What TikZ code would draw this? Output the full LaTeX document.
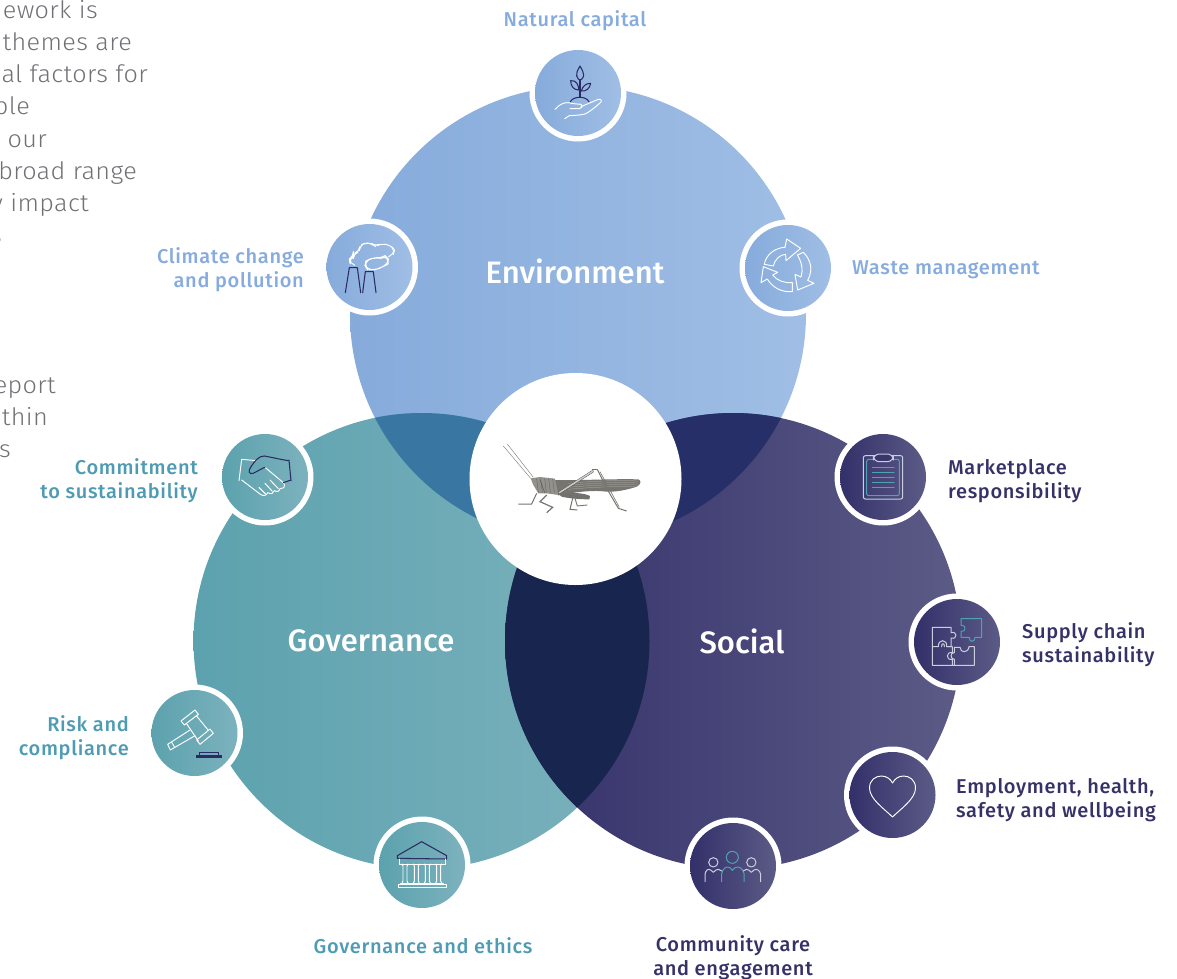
\documentclass[tikz,border=0pt]{standalone}
\usepackage{fontspec}
\setmainfont{Fira Sans}
\newfontfamily\lblfont[LetterSpace=3.3]{Fira Sans Medium}
\newfontfamily\headfont{Fira Sans Medium}
\newfontfamily\bodyfont[FakeStretch=1.05,LetterSpace=1.5]{Fira Sans Light}
\definecolor{envtxt}{HTML}{86ABDE}
\definecolor{govtxt}{HTML}{4E9BB3}
\definecolor{soctxt}{HTML}{363268}
\definecolor{bodytxt}{HTML}{6F7175}
\definecolor{navy}{HTML}{2B2A63}
\definecolor{tealline}{HTML}{4FA3AE}
\definecolor{pale}{HTML}{CBCEDD}
\definecolor{envL}{HTML}{86ABDB}\definecolor{envR}{HTML}{A0BEE5}
\definecolor{govL}{HTML}{5CA2AE}\definecolor{govR}{HTML}{7CB2BD}
\definecolor{socL}{HTML}{33306A}\definecolor{socR}{HTML}{5C5B86}
\definecolor{hop}{HTML}{77756F}
\definecolor{hopdark}{HTML}{4F4E4A}
\definecolor{hoplight}{HTML}{B5B4AE}
\tikzset{
  bigdisc/.style={circle,inner sep=0pt,minimum size=456pt,draw=none},
  ring/.style={circle,inner sep=0pt,minimum size=97pt,fill=white,draw=none},
  icondisc/.style={circle,inner sep=0pt,minimum size=86pt,draw=none},
  lbl/.style={inner sep=0pt,font=\lblfont\fontsize{20}{24}\selectfont},
  head/.style={inner sep=0pt,text=white,font=\headfont\fontsize{31}{36}\selectfont},
  bodyline/.style={inner sep=0pt,anchor=base east,text=bodytxt,font=\bodyfont\fontsize{24}{32}\selectfont},
  wl/.style={draw=white,line width=0.95pt,line join=round,line cap=round},
  nl/.style={draw=navy,line width=1.05pt,line join=round,line cap=round},
  tl/.style={draw=tealline,line width=1pt,line join=round,line cap=round},
  pl/.style={draw=pale,line width=1pt,line join=round,line cap=round},
  envS/.style={left color=envL,right color=envR},
  govS/.style={left color=govL,right color=govR},
  socS/.style={left color=socL,right color=socR},
}
\newcommand{\icondot}[4]{% name, x, y, shade
  \node[ring] at (#2,#3) {};
  \node[icondisc,#4] (#1) at (#2,#3) {};
}
\begin{document}
\begin{tikzpicture}[x=1pt,y=-1pt]
\useasboundingbox (0,0) rectangle (1177,979);
% big circles
\node[bigdisc,envS] (env) at (578,314) {};
\node[bigdisc,govS] (gov) at (421.5,641) {};
\node[bigdisc,socS] (soc) at (733,641) {};
% overlaps
\begin{scope}
  \clip (578,314) circle (228pt);
  \fill[color={rgb,255:red,57;green,119;blue,162}] (421.5,641) circle (228pt);
\end{scope}
\begin{scope}
  \clip (578,314) circle (228pt);
  \fill[color={rgb,255:red,38;green,47;blue,104}] (733,641) circle (228pt);
\end{scope}
\begin{scope}
  \clip (421.5,641) circle (228pt);
  \fill[color={rgb,255:red,23;green,37;blue,79}] (733,641) circle (228pt);
\end{scope}
\node[circle,inner sep=0pt,minimum size=212pt,fill=white] (hub) at (575.5,479) {};
% headings
\node[head] (henv) at (575,271) {Environment};
\node[head] (hgov) at (371,641) {Governance};
\node[head] (hsoc) at (742,641) {Social};
% icon discs
\icondot{natural}{578}{93}{envS}
\icondot{climate}{369.5}{267}{envS}
\icondot{waste}{788}{268}{envS}
\icondot{commit}{265}{477}{govS}
\icondot{risk}{194.5}{733}{govS}
\icondot{ethics}{422}{865}{govS}
\icondot{market}{883}{477}{socS}
\icondot{supply}{957}{642}{socS}
\icondot{employ}{892.5}{795}{socS}
\icondot{commun}{733}{866}{socS}
% natural capital icon
\begin{scope}[shift={(520,40)},scale=1/3]
  \draw[nl] (180,78) .. controls (172,92) and (168,100) .. (170,108) .. controls (172,116) and (178,120) .. (180,120) .. controls (182,120) and (190,116) .. (191,106) .. controls (192,98) and (186,90) .. (180,78) -- cycle;
  \draw[nl] (180,120) -- (180,170);
  \draw[nl] (152,122) .. controls (170,120) and (175,135) .. (177,150) .. controls (162,150) and (152,140) .. (152,122) -- cycle;
  \draw[nl] (212,130) .. controls (198,130) and (188,138) .. (184,153) .. controls (198,155) and (210,145) .. (212,130) -- cycle;
  \draw[nl] (151,185) .. controls (158,170) and (195,165) .. (207,185);
  \draw[wl] (105,208) .. controls (118,195) and (128,187) .. (145,188) .. controls (160,192) and (175,192) .. (183,193) .. controls (190,198) and (185,206) .. (178,206) -- (150,206);
  \draw[wl] (183,200) -- (235,178) .. controls (245,176) and (247,184) .. (240,189) .. controls (225,202) and (210,215) .. (195,222) .. controls (180,226) and (160,226) .. (148,227) -- (134,236);
\end{scope}
% climate icon
\begin{scope}[shift={(320,215)},scale=1/3]
  \draw[nl] (76,233) -- (88,158) -- (112,158) -- (122,233);
  \draw[nl] (128,233) -- (136,170) -- (160,170) -- (168,233);
  \draw[wl,rounded corners=5pt] (102,150) -- (90,146) -- (88,132) -- (100,124) -- (100,116) -- (118,110) -- (120,92) -- (136,83) -- (155,86) -- (166,94) -- (185,86) -- (210,90) -- (224,104) -- (220,118) -- (206,125);
  \draw[wl,rounded corners=5pt] (142,163) -- (135,152) -- (138,138) -- (150,132) -- (168,128) -- (182,130) -- (195,122) -- (205,132) -- (204,148) -- (190,154) -- (178,160) -- (162,165) -- cycle;
\end{scope}
% waste icon
\begin{scope}[shift={(735,215)},scale=1/3]
  \draw[wl] (88,148) .. controls (92,120) and (120,98) .. (150,97) -- (155,72) -- (197,100) -- (153,137) -- (152,118) .. controls (135,118) and (118,135) .. (115,153) -- cycle;
  \draw[wl] (187,120) -- (205,112) .. controls (228,135) and (235,165) .. (218,196) -- (237,205) -- (188,225) -- (180,178) -- (198,186) .. controls (205,165) and (200,140) .. (187,120) -- cycle;
  \draw[wl] (128,172) -- (113,180) .. controls (125,197) and (150,205) .. (172,203) -- (172,230) .. controls (145,232) and (115,222) .. (97,192) -- (78,203) -- (85,155) -- cycle;
\end{scope}
% handshake icon
\begin{scope}[shift={(215,430)},scale=1/3]
  \draw[wl] (72,152) -- (80,88) -- (125,92);
  \draw[wl] (80,150) -- (135,192) .. controls (145,200) and (155,197) .. (158,188) .. controls (168,194) and (176,190) .. (178,182) .. controls (188,188) and (196,182) .. (196,175) .. controls (208,178) and (212,165) .. (205,158) -- (150,112);
  \draw[wl] (132,172) -- (152,192);
  \draw[wl] (150,160) -- (172,184);
  \draw[wl] (165,150) -- (190,176);
  \draw[nl] (222,90) -- (228,152);
  \draw[nl] (220,92) .. controls (195,88) and (170,82) .. (148,78) .. controls (132,78) and (122,90) .. (108,110) .. controls (98,124) and (102,134) .. (114,130) .. controls (128,124) and (140,115) .. (150,112);
  \draw[nl] (205,158) -- (228,150);
\end{scope}
% gavel icon
\begin{scope}[shift={(145,685)},scale=1/3]
  \draw[wl] (108,108) -- (150,75) -- (160,88) -- (118,120) -- cycle;
  \draw[wl] (155,165) -- (195,132) -- (205,145) -- (165,178) -- cycle;
  \draw[wl] (124,115) -- (160,168);
  \draw[wl] (154,92) -- (190,136);
  \draw[wl] (135,135) -- (68,178) -- (76,195) -- (150,152);
  \draw[wl] (80,172) -- (89,187);
  \fill[navy] (154,211) rectangle (231,218);
  \draw[nl] (163,210) -- (163,203) -- (220,203) -- (220,210);
\end{scope}
% temple icon
\begin{scope}[shift={(370,815)},scale=1/3]
  \draw[nl] (82,122) -- (155,80) -- (230,122) -- (230,132) -- (82,130) -- cycle;
  \draw[wl] (88,132) -- (88,147) -- (225,147) -- (225,132);
  \foreach \cx in {105,139,172,206}{
    \draw[wl] (\cx-9,147) -- (\cx-6,153) -- (\cx-6,198) -- (\cx-9,204);
    \draw[wl] (\cx+9,147) -- (\cx+6,153) -- (\cx+6,198) -- (\cx+9,204);
  }
  \draw[wl] (92,204) -- (220,204);
  \draw[wl] (85,209) rectangle (228,217);
\end{scope}
% clipboard icon
\begin{scope}[shift={(830,425)},scale=1/3]
  \draw[pl,rounded corners=2pt] (100,92) rectangle (218,222);
  \draw[tl,rounded corners=2pt] (110,103) rectangle (208,212);
  \draw[pl,rounded corners=6pt,fill=socL!85!socR] (130,87) -- (190,87) -- (190,110) -- (130,110) -- cycle;
  \foreach \ly in {128,143,158,173,188}{\draw[tl] (127,\ly) -- (192,\ly);}
\end{scope}
% puzzle icon
\begin{scope}[shift={(905,590)},scale=1/3]
  \draw[tl] (168,86) -- (230,86) -- (230,142) -- (210,142) .. controls (210,158) and (192,158) .. (193,142) -- (168,142) -- (168,124) .. controls (184,128) and (184,102) .. (168,106) -- cycle;
  \draw[pl] (82,112) -- (138,112) -- (138,128) .. controls (158,122) and (158,150) .. (138,144) -- (138,170) -- (125,170) .. controls (128,146) and (98,146) .. (100,170) -- (82,170) -- cycle;
  \draw[pl] (110,170) .. controls (108,158) and (120,158) .. (118,170);
  \draw[pl] (82,170) -- (82,226) -- (142,226) -- (142,208) .. controls (122,212) and (122,184) .. (142,188) -- (142,170) -- (125,170);
  \draw[pl] (148,172) -- (165,172) .. controls (166,190) and (190,190) .. (192,170) -- (208,170) -- (208,226) -- (142,226);
  \draw[pl] (148,172) -- (148,188) .. controls (135,186) and (135,208) .. (148,208) -- (148,226);
\end{scope}
% heart icon
\begin{scope}[shift={(892.5,795)}]
  \draw[wl] (0,22) .. controls (-8,14) and (-23,4) .. (-23,-7) .. controls (-23,-15) and (-17,-19) .. (-11,-19) .. controls (-6,-19) and (-2,-16) .. (0,-12) .. controls (2,-16) and (6,-19) .. (11,-19) .. controls (17,-19) and (23,-15) .. (23,-7) .. controls (23,4) and (8,14) .. (0,22) -- cycle;
\end{scope}
% people icon
\begin{scope}[shift={(680,815)},scale=1/3]
  \draw[tl] (157,127) circle (18);
  \draw[tl] (125,200) -- (125,176) .. controls (128,160) and (140,152) .. (150,158) -- (157,166) -- (165,158) .. controls (176,152) and (190,160) .. (192,176) -- (192,200);
  \draw[pl] (100,142) circle (14);
  \draw[pl] (214,142) circle (14);
  \draw[pl] (75,200) -- (75,178) .. controls (77,165) and (85,160) .. (92,165) -- (100,172) -- (108,165) .. controls (112,162) and (118,162) .. (125,168);
  \draw[pl] (190,168) .. controls (196,162) and (202,162) .. (206,165) -- (214,172) -- (222,165) .. controls (230,160) and (240,166) .. (242,178) -- (242,200);
\end{scope}
% grasshopper
\begin{scope}[shift={(490,430)},scale=1/3]
  \draw[hop,line width=0.4pt] (40,48) -- (122,145);
  \draw[hop,line width=0.4pt] (52,42) -- (130,142);
  % wing / abdomen
  \fill[hop] (190,150) .. controls (270,152) and (360,146) .. (445,148) .. controls (456,152) and (452,164) .. (440,170) .. controls (410,180) and (380,186) .. (350,185) .. controls (310,180) and (270,184) .. (205,196) .. controls (195,190) and (190,170) .. (190,150) -- cycle;
  \foreach \yy in {154,160,166,172}{\draw[hoplight,line width=0.25pt] (235,\yy+6) .. controls (320,\yy-2) and (380,\yy-2) .. (445,\yy-4);}
  % head and thorax
  \fill[hop!80] (122,145) -- (150,141) -- (195,146) -- (205,195) -- (170,190) -- (145,190) -- (130,165) -- cycle;
  \foreach \xx in {140,152,164,176,188}{\draw[hopdark,line width=0.22pt] (\xx,146) -- (\xx+5,188);}
  \draw[hopdark,line width=0.35pt] (150,150) -- (165,190);
  % belly
  \fill[hopdark!80] (205,192) .. controls (240,186) and (280,188) .. (300,198) -- (298,208) .. controls (270,208) and (235,205) .. (215,200) -- cycle;
  % hind femur
  \draw[hopdark,line width=2.4pt,line cap=round] (208,188) -- (308,124);
  \draw[hoplight!70,line width=1.6pt,line cap=round] (208,188) -- (308,124);
  % legs
  \draw[hopdark!80,line width=0.7pt] (322,118) -- (305,118);
  \draw[hop,line width=1pt] (322,118) -- (350,175) -- (385,235) -- (410,243);
  \draw[hop,line width=0.6pt] (330,125) -- (388,232);
  \draw[hop,line width=1pt] (140,190) -- (125,222) -- (85,222);
  \draw[hop,line width=1.2pt] (170,195) -- (150,215) -- (188,232) -- (170,248);
  \draw[hop,line width=1pt] (250,197) -- (240,238) -- (262,240);
  \draw[hop,line width=0.9pt] (255,205) -- (262,228) -- (292,225);
\end{scope}
% labels
\node[lbl,text=envtxt,anchor=center] (lnat) at (575,21) {Natural capital};
\node[lbl,text=envtxt,align=right,anchor=east] (lcli) at (304,270) {Climate change\\and pollution};
\node[lbl,text=envtxt,anchor=west] (lwas) at (852,270) {Waste management};
\node[lbl,text=govtxt,align=right,anchor=east] (lcom) at (198,481) {Commitment\\to sustainability};
\node[lbl,text=govtxt,align=right,anchor=east] (lris) at (129,738) {Risk and\\compliance};
\node[lbl,text=govtxt,anchor=center] (leth) at (423,946) {Governance and ethics};
\node[lbl,text=soctxt,align=left,anchor=west] (lmar) at (948,481) {Marketplace\\responsibility};
\node[lbl,text=soctxt,align=left,anchor=west] (lsup) at (1022,645) {Supply chain\\sustainability};
\node[lbl,text=soctxt,align=left,anchor=west] (lemp) at (956,800) {Employment, health,\\safety and wellbeing};
\node[lbl,text=soctxt,align=center,anchor=center] (lcmm) at (733,958) {Community care\\and engagement};
% cropped body text
\node[bodyline] (b1) at (98,19) {mework is};
\node[bodyline] (b2) at (132,51) {themes are};
\node[bodyline] (b3) at (148,83) {al factors for};
\node[bodyline] (b4) at (30,115) {ble};
\node[bodyline] (b5) at (47,147) {y our};
\node[bodyline] (b6) at (137,179) {broad range};
\node[bodyline] (b7) at (89,211) {y impact};
\node[bodyline] (b8) at (2,243) {s};
\node[bodyline] (b9) at (56,393) {eport};
\node[bodyline] (b10) at (48,425) {ithin};
\node[bodyline] (b11) at (11,457) {s};
\end{tikzpicture}
\end{document}
